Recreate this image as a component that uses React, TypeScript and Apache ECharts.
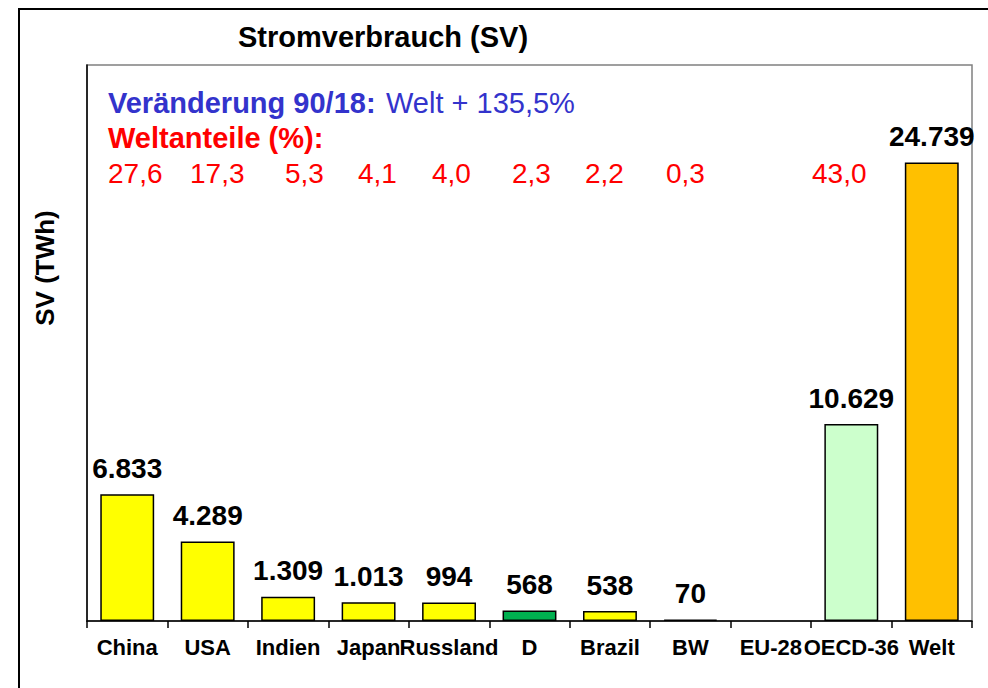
import React, { useEffect, useRef } from "react";
import * as echarts from "echarts";

const categories = ["China", "USA", "Indien", "Japan", "Russland", "D", "Brazil", "BW", "EU-28", "OECD-36", "Welt"];
const values: (number | null)[] = [6833, 4289, 1309, 1013, 994, 568, 538, 70, null, 10629, 24739];
const barColors = ["#FFFF00", "#FFFF00", "#FFFF00", "#FFFF00", "#FFFF00", "#00B050", "#FFFF00", "#FFFF00", "#FFFF00", "#CCFFCC", "#FFC000"];
const shares = ["27,6", "17,3", "5,3", "4,1", "4,0", "2,3", "2,2", "0,3", "", "43,0", ""];
const titleText = "Stromverbrauch (SV)";
const yAxisName = "SV (TWh)";
const changeLabel = "Veränderung 90/18:";
const changeValue = "Welt + 135,5%";
const shareLabel = "Weltanteile (%):";

// layout: left x of each share text (px)
const shareX = [108, 190, 285, 358, 432, 512, 585, 666, 0, 812, 0];

const FONT = 'Arial, "Liberation Sans", sans-serif';

function fmt(v: number): string {
  const s = String(Math.round(v));
  return s.replace(/\B(?=(\d{3})+(?!\d))/g, ".");
}

export default function App() {
  const ref = useRef<HTMLDivElement>(null);
  useEffect(() => {
    if (!ref.current) return;
    const chart = echarts.init(ref.current, null, { renderer: "svg" });
    const graphics: any[] = [
      {
        type: "rect",
        shape: { x: 19, y: 9, width: 1000, height: 700 },
        style: { fill: "none", stroke: "#000", lineWidth: 2 },
        silent: true,
      },
      {
        type: "text",
        x: 383,
        y: 37,
        style: { text: titleText, font: `bold 29px ${FONT}`, fill: "#000", textAlign: "center", textVerticalAlign: "middle" },
      },
      {
        type: "text",
        x: 108,
        y: 103,
        style: { text: changeLabel, font: `bold 29px ${FONT}`, fill: "#3333CC", textVerticalAlign: "middle" },
      },
      {
        type: "text",
        x: 386,
        y: 103,
        style: { text: changeValue, font: `29px ${FONT}`, fill: "#3333CC", textVerticalAlign: "middle" },
      },
      {
        type: "text",
        x: 108,
        y: 138,
        style: { text: shareLabel, font: `bold 29px ${FONT}`, fill: "#FF0000", textVerticalAlign: "middle" },
      },
      {
        type: "text",
        x: 45,
        y: 268,
        rotation: Math.PI / 2,
        style: { text: yAxisName, font: `bold 26px ${FONT}`, fill: "#000", textAlign: "center", textVerticalAlign: "middle" },
      },
    ];
    shares.forEach((s, i) => {
      if (!s) return;
      graphics.push({
        type: "text",
        x: shareX[i],
        y: 173,
        style: { text: s, font: `28px ${FONT}`, fill: "#FF0000", textVerticalAlign: "middle" },
      });
    });

    chart.setOption({
      animation: false,
      backgroundColor: "#fff",
      grid: { left: 87, right: 16, top: 65, bottom: 67, show: true, borderColor: "#808080", borderWidth: 1.5 },
      xAxis: {
        type: "category",
        data: categories,
        axisLine: { lineStyle: { color: "#000", width: 1.5 } },
        axisTick: { show: true, length: 7, lineStyle: { color: "#000", width: 1.5 } },
        axisLabel: { interval: 0, margin: 15, color: "#000", fontFamily: FONT, fontWeight: "bold", fontSize: 22, hideOverlap: false },
      },
      yAxis: {
        type: "value",
        min: 0,
        max: 30000,
        splitLine: { show: false },
        axisLabel: { show: false },
        axisTick: { show: false },
        axisLine: { show: true, lineStyle: { color: "#000", width: 1.5 } },
      },
      series: [
        {
          type: "bar",
          barWidth: "67%",
          data: values.map((v, i) => ({
            value: v,
            itemStyle: { color: barColors[i], borderColor: "#000", borderWidth: 1.5 },
          })),
          label: {
            show: true,
            position: "top",
            distance: 12,
            color: "#000",
            fontFamily: FONT,
            fontWeight: "bold",
            fontSize: 28,
            formatter: (p: any) => (p.value == null ? "" : fmt(p.value)),
          },
        },
      ],
      graphic: graphics,
    });
    return () => chart.dispose();
  }, []);
  return <div ref={ref} style={{ position: "fixed", left: 0, top: 0, width: 988, height: 688 }} />;
}
